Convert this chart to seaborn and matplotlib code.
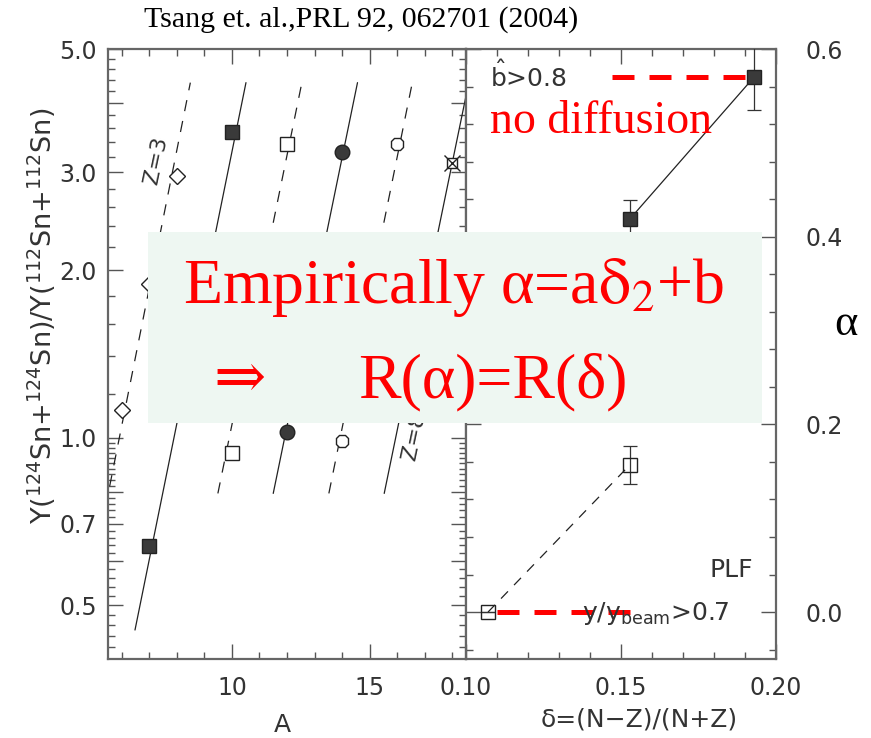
import numpy as np
import pandas as pd
import matplotlib
matplotlib.use('Agg')
import matplotlib.pyplot as plt
import seaborn as sns
from matplotlib.ticker import FixedLocator, FixedFormatter, MultipleLocator, NullFormatter
from matplotlib.patches import Rectangle

# ---------------- data ----------------
title = "Tsang et. al.,PRL 92, 062701 (2004)"

# fitted isoscaling lines in left panel (one per Z)
line_Z = [3, 4, 5, 6, 7, 8]
line_A_lo = [5.56, 6.48, 9.49, 11.50, 13.52, 15.53]
line_A_hi = [8.49, 10.51, 12.54, 14.56, 16.55, 18.60]
line_R_lo = [0.818, 0.451, 0.794, 0.794, 0.794, 0.794]
line_R_hi = [4.35, 4.35, 4.35, 4.35, 4.35, 4.35]

Z3_A = [6, 7, 8];  Z3_R = [1.12, 1.89, 2.95]
Z4_A = [7, 10];    Z4_R = [0.638, 3.55]
Z5_A = [10, 12];   Z5_R = [0.94, 3.38]
Z6_A = [12, 14];   Z6_R = [1.025, 3.27]
Z7_A = [14, 16];   Z7_R = [0.988, 3.37]
Z8_A = [18];       Z8_R = [3.12]

left_yticks = [0.5, 0.6, 0.7, 0.8, 1.0, 2.0, 3.0, 4.0, 5.0]
left_ylabels = ['0.5', '', '0.7', '', '1.0', '2.0', '3.0', '', '5.0']
left_yminor = [0.42, 0.44, 0.46, 0.48, 0.52, 0.54, 0.56, 0.58, 0.62, 0.64, 0.66,
               0.68, 0.72, 0.74, 0.76, 0.78, 0.82, 0.84, 0.86, 0.88, 0.9, 0.92,
               0.94, 0.96, 0.98, 1.2, 1.4, 1.6, 1.8, 2.2, 2.4, 2.6, 2.8, 3.2,
               3.4, 3.6, 3.8, 4.2, 4.4, 4.6, 4.8]
left_xticks = [10, 15]
left_xlabels = ['10', '15']

# right panel
delta_filled = [0.1529, 0.1929]; alpha_filled = [0.419, 0.570]; err_filled = [0.02, 0.035]
delta_open = [0.1071, 0.1529];   alpha_open = [0.0, 0.157];     err_open = [0.0, 0.02]
ref_hi_delta = [0.147, 0.1929];  ref_hi_alpha = [0.570, 0.570]
ref_lo_delta = [0.110, 0.1545];  ref_lo_alpha = [0.0, 0.0]

right_yticks = [0.0, 0.2, 0.4, 0.6]
right_ylabels = ['0.0', '0.2', '0.4', '0.6']
right_xticks = [0.10, 0.15, 0.20]
right_xlabels = ['0.10', '0.15', '0.20']

# ---------------- style ----------------
sns.set_theme(style='ticks')
plt.rcParams['font.family'] = ['DejaVu Sans']
plt.rcParams['mathtext.fontset'] = 'dejavusans'

GRAY = '#333333'
SPINE = '#666666'

fig = plt.figure(figsize=(8.71, 7.38), dpi=100)
W, H = 871, 738
ax1 = fig.add_axes([108 / W, (H - 659) / H, 358 / W, 610 / H])
ax2 = fig.add_axes([466 / W, (H - 659) / H, 310 / W, 610 / H])

for ax in (ax1, ax2):
    for s in ax.spines.values():
        s.set_color(SPINE)
        s.set_linewidth(1.6)
    ax.set_facecolor('white')
    ax.tick_params(which='both', direction='in', color='#555555', width=1.0,
                   labelcolor=GRAY, labelsize=17, top=True, right=True)
    ax.tick_params(which='major', length=11)
    ax.tick_params(which='minor', length=5)

# ---------- left panel ----------
rows = []
for z, a0, a1, r0, r1 in zip(line_Z, line_A_lo, line_A_hi, line_R_lo, line_R_hi):
    kind = 'dashed' if z % 2 else 'solid'
    rows.append(dict(Z=z, A=a0, R=r0, kind=kind))
    rows.append(dict(Z=z, A=a1, R=r1, kind=kind))
lines_df = pd.DataFrame(rows)
sns.lineplot(data=lines_df, x='A', y='R', units='Z', estimator=None, style='kind',
             dashes={'dashed': (9, 8), 'solid': ''}, color='#222222', lw=0.9,
             legend=False, sort=False, ax=ax1)

mk = dict(ls='none', mec='#222222', mew=1.0, zorder=4)
ax1.plot(Z3_A, Z3_R, marker='D', ms=8.5, mfc='white', **mk)
ax1.plot(Z4_A, Z4_R, marker='s', ms=10, mfc='#3a3a3a', **mk)
ax1.plot(Z5_A, Z5_R, marker='s', ms=10, mfc='white', **mk)
ax1.plot(Z6_A, Z6_R, marker='o', ms=10.5, mfc='#3a3a3a', **mk)
ax1.plot(Z7_A, Z7_R, marker='8', ms=10, mfc='white', **mk)
ax1.plot(Z8_A, Z8_R, marker='s', ms=6.5, mfc='white', **mk)
ax1.plot(Z8_A, Z8_R, marker='x', ms=11, **mk)

ax1.set_yscale('log')
ax1.set_xlim(5.5, 18.5)
ax1.set_ylim(0.4, 5.0)
ax1.yaxis.set_major_locator(FixedLocator(left_yticks))
ax1.yaxis.set_major_formatter(FixedFormatter(left_ylabels))
ax1.yaxis.set_minor_locator(FixedLocator(left_yminor))
ax1.yaxis.set_minor_formatter(NullFormatter())
ax1.xaxis.set_major_locator(FixedLocator(left_xticks))
ax1.xaxis.set_major_formatter(FixedFormatter(left_xlabels))
ax1.xaxis.set_minor_locator(MultipleLocator(1))
ax1.tick_params(axis='y', pad=8)
ax1.tick_params(axis='x', pad=12)

ax1.set_xlabel('A', fontsize=18, color=GRAY, va='top')
ax1.xaxis.set_label_coords(0.486, -0.0885)
ax1.set_ylabel(r'Y($^{124}$Sn+$^{124}$Sn)/Y($^{112}$Sn+$^{112}$Sn)', fontsize=19.5, color=GRAY)
ax1.yaxis.set_label_coords(-0.140, 0.562)

ax1.text(7.07, 2.86, 'Z=3', rotation=78, rotation_mode='anchor', ha='left', va='center',
         fontsize=16, color=GRAY)
ax1.text(16.45, 0.913, 'Z=8', rotation=78, rotation_mode='anchor', ha='left', va='center',
         fontsize=16, color=GRAY)

# ---------- right panel ----------
ax2.plot(ref_hi_delta, ref_hi_alpha, color='red', lw=3.6, dashes=(4.4, 3.0), zorder=2,
         solid_capstyle='butt', dash_capstyle='butt')
ax2.plot(ref_lo_delta, ref_lo_alpha, color='red', lw=3.6, dashes=(4.4, 3.0), zorder=2,
         solid_capstyle='butt', dash_capstyle='butt')

sns.lineplot(x=delta_filled, y=alpha_filled, color='#222222', lw=0.9, ax=ax2, legend=False)
sns.lineplot(x=delta_open, y=alpha_open, color='#222222', lw=0.9, ax=ax2, legend=False)
ax2.lines[-1].set_dashes((8, 7))
ax2.errorbar(delta_filled, alpha_filled, yerr=err_filled, fmt='s', ms=10,
             mfc='#3a3a3a', mec='#222222', ecolor='#333333', elinewidth=0.9,
             capsize=5, capthick=0.9, zorder=4)
ax2.errorbar(delta_open, alpha_open, yerr=err_open, fmt='s', ms=10,
             mfc='none', mec='#222222', ecolor='#333333', elinewidth=0.9,
             capsize=5, capthick=0.9, zorder=4)

ax2.set_xlim(0.10, 0.20)
ax2.set_ylim(-0.05, 0.6)
ax2.xaxis.set_major_locator(FixedLocator(right_xticks))
ax2.xaxis.set_major_formatter(FixedFormatter(right_xlabels))
ax2.xaxis.set_minor_locator(MultipleLocator(0.01))
ax2.yaxis.set_major_locator(FixedLocator(right_yticks))
ax2.yaxis.set_major_formatter(FixedFormatter(right_ylabels))
ax2.yaxis.set_minor_locator(MultipleLocator(0.04))
ax2.tick_params(axis='y', labelleft=False, labelright=True, pad=21)
ax2.tick_params(axis='x', pad=12)
ax2.set_ylabel('')
ax2.set_xlabel('δ=(N−Z)/(N+Z)', fontsize=18, color=GRAY, va='top')
ax2.xaxis.set_label_coords(0.558, -0.0787)

ax2.text(0.1077, 0.559, r'$\hat{\mathrm{b}}$>0.8', fontsize=18, color=GRAY,
         ha='left', va='baseline')
ax2.text(0.1077, 0.5105, 'no diffusion', fontsize=33, color='red',
         family='Liberation Serif', ha='left', va='baseline')
ax2.text(0.1925, 0.0375, 'PLF', fontsize=18, color=GRAY, ha='right', va='baseline')
ax2.text(0.1375, -0.0085, r'y/y$_{\rm beam}$>0.7', fontsize=18, color=GRAY,
         ha='left', va='baseline')

# ---------- overlay box and texts ----------
fig.add_artist(Rectangle((148 / W, (H - 423) / H), 614 / W, 191 / H,
                         transform=fig.transFigure, fc='#EEF7F2', ec='none', zorder=5))
fig.text(183 / W, (H - 303) / H, r'Empirically α=a$\mathrm{\delta}_{2}$+b', fontsize=46,
         color='red', family='Liberation Serif', math_fontfamily='stix',
         ha='left', va='baseline', zorder=6)
fig.text(213 / W, (H - 397) / H, '⇒', fontsize=45, color='red',
         family=['Liberation Serif', 'DejaVu Serif'], ha='left', va='baseline', zorder=6)
fig.text(358 / W, (H - 397) / H, 'R(α)=R(δ)', fontsize=46, color='red',
         family='Liberation Serif', ha='left', va='baseline', zorder=6)

fig.text(846 / W, (H - 335) / H, 'α', fontsize=32, color='black',
         family='Liberation Serif', ha='center', va='baseline')
fig.text(361 / W, (H - 27) / H, title, fontsize=21.5, color='black',
         family='Liberation Serif', ha='center', va='baseline')

fig.savefig('out.png', dpi=100)
